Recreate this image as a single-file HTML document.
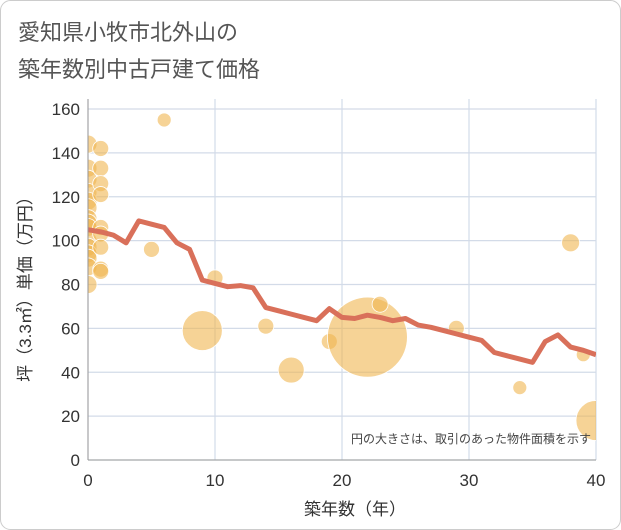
<!DOCTYPE html>
<html><head><meta charset="utf-8"><style>
body{margin:0;background:#fff;}
svg{display:block;font-family:"Liberation Sans","Noto Sans CJK JP",sans-serif;}
</style></head><body>
<svg id="c" width="621" height="530">
<defs><clipPath id="pc"><rect x="88" y="90" width="508" height="370"/></clipPath></defs>
<rect x="0.5" y="0.5" width="620" height="529" rx="10" fill="#fff" stroke="#ccc"/>
<text x="18" y="40" font-size="22" fill="#555">愛知県小牧市北外山の</text>
<text x="18" y="77" font-size="22" fill="#555">築年数別中古戸建て価格</text>
<g id="grid"></g><g id="bub" clip-path="url(#pc)"></g><g id="ln" clip-path="url(#pc)"></g><g id="ax"></g>
<text x="591" y="443" font-size="12" fill="#444" text-anchor="end">円の大きさは、取引のあった物件面積を示す</text>
<text x="355" y="515" font-size="17" fill="#333" text-anchor="middle">築年数（年）</text>
<text transform="translate(31,285) rotate(-90)" font-size="17" fill="#333" text-anchor="middle">坪（3.3㎡）単価（万円）</text>
</svg>
<script>
const xTicks=[0,10,20,30,40];
const yTicks=[0,20,40,60,80,100,120,140,160];
const lineYears=[0,1,2,3,4,5,6,7,8,9,10,11,12,13,14,15,16,17,18,19,20,21,22,23,24,25,26,27,28,29,30,31,32,33,34,35,36,37,38,39,40];
const lineValues=[105,104,102.5,99,109,107.5,106,99,96,82,80.5,79,79.5,78.5,69.5,68,66.5,65,63.5,69,65,64.5,66,65,63.5,64.5,61.5,60.5,59,57.5,56,54.5,49,47.5,46,44.5,54,57,51.5,50,48];
const bubbleX=[0,0,0,0,0,0,0,0,0,0,0,0,0,0,0,1,1,1,1,1,1,1,1,1,5,6,9,10,14,16,19,22,23,29,34,38,39,40];
const bubbleY=[144,133,128,122,118,115,110,108,106,100,97,94,92,88,80,142,133,126,121,106,103,97,87,86,96,155,59,83,61,41,54,56,71,60,33,99,48,18];
const bubbleR=[9,9,9,9,9,9,9,9,9,9,9,9,9,9,9,8,8,8,8,8,8,8,8,8,8,7,20,8,8,13,8,40,8,8,7,9,7,20];
const X0=88,X1=596,Y0=460,Y1=109;
const sx=v=>X0+(v/40)*(X1-X0), sy=v=>Y0-(v/160)*(Y0-Y1);
const NS='http://www.w3.org/2000/svg';
function mk(p,t,a){const e=document.createElementNS(NS,t);for(const k in a)e.setAttribute(k,a[k]);document.getElementById(p).appendChild(e);return e;}
yTicks.forEach(v=>{const l=mk('grid','line',{x1:X0,x2:X1,y1:sy(v),y2:sy(v),stroke:'#d3dbe8','stroke-width':1.2});


const t=mk('ax','text',{x:80,y:sy(v)+6,'font-size':17,fill:'#333','text-anchor':'end'});t.textContent=v;

});
xTicks.forEach(v=>{const l=mk('grid','line',{x1:sx(v),x2:sx(v),y1:Y1-10,y2:Y0,stroke:'#d3dbe8','stroke-width':1.2});


const t=mk('ax','text',{x:sx(v),y:486,'font-size':17,fill:'#333','text-anchor':'middle'});t.textContent=v;

});
const a1=mk('ax','line',{x1:X0,x2:X0,y1:Y1-10,y2:Y0,stroke:'#999'});


const a2=mk('ax','line',{x1:X0,x2:X1,y1:Y0,y2:Y0,stroke:'#999'});


bubbleX.forEach((v,i)=>{const c=mk('bub','circle',{cx:sx(v),cy:sy(bubbleY[i]),r:bubbleR[i],fill:'#f0b550','fill-opacity':0.6,stroke:'#fff','stroke-width':0.8});

});
const p=mk('ln','polyline',{points:lineYears.map((v,i)=>sx(v)+','+sy(lineValues[i])).join(' '),fill:'none',stroke:'#d9705a','stroke-width':5,'stroke-linejoin':'round'});


</script>
</body></html>
